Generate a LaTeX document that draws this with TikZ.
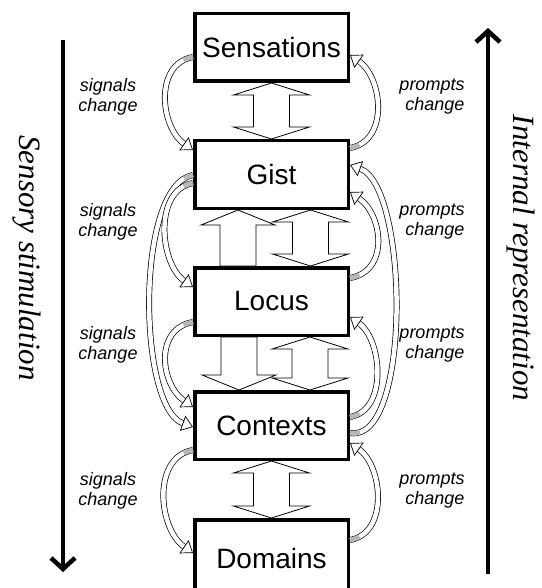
\documentclass[tikz,border=0pt]{standalone}
\usepackage{fontspec}
\setmainfont{Liberation Serif}
\setsansfont{Liberation Sans}
\usetikzlibrary{positioning,calc,arrows.meta}

% block arrows between two boxes: upper anchor, lower anchor, x shift
\newcommand{\bothway}[3]{%
  \draw[blockarrow] let \p1=($#1+(#3,0)$), \p2=($#2+(#3,0)$) in
    (\p1) -- ++(38pt,-12pt) -- ++(-20pt,0pt) -- (\x1+18pt,\y2+12pt) -- ++(20pt,0pt)
    -- (\p2) -- ++(-38pt,12pt) -- ++(20pt,0pt) -- (\x1-18pt,\y1-12pt) -- ++(-20pt,0pt) -- cycle;}
\newcommand{\upway}[3]{%
  \draw[blockarrow] let \p1=($#1+(#3,0)$), \p2=($#2+(#3,0)$) in
    (\p1) -- ++(37pt,-15pt) -- ++(-19pt,0pt) -- (\x1+18pt,\y2) -- (\x1-18pt,\y2)
    -- (\x1-18pt,\y1-15pt) -- ++(-19pt,0pt) -- cycle;}
\newcommand{\downway}[3]{%
  \draw[blockarrow] let \p1=($#1+(#3,0)$), \p2=($#2+(#3,0)$) in
    (\p2) -- ++(37pt,15pt) -- ++(-19pt,0pt) -- (\x1+18pt,\y1) -- (\x1-18pt,\y1)
    -- (\x1-18pt,\y2+15pt) -- ++(-19pt,0pt) -- cycle;}
% curved ribbon arrow with a shaded tail: from, to, curve options
\newcommand{\ribbon}[3]{%
  \draw[curved] #1 to[#3] #2;
  \draw[tailshade] #1 to[#3] #2;}

\begin{document}
\begin{tikzpicture}[x=1pt,y=-1pt,
	box/.style={rectangle,draw=black,fill=white,line width=3.5pt,minimum width=153.5pt,minimum height=67.5pt,font=\sffamily\fontsize{28}{30}\selectfont},
	blockarrow/.style={draw=black,fill=white,line width=0.8pt,line join=miter},
	curved/.style={draw=black,line width=0.7pt,double=white,double distance=4.5pt,-{Triangle[open,length=11pt,width=16pt,line width=0.7pt]}},
	tailshade/.style={draw=black!28,line width=4.5pt,dash pattern=on 10pt off 3000pt},
	note/.style={font=\sffamily\itshape\fontsize{18}{20}\selectfont},
	side/.style={font=\rmfamily\itshape\fontsize{31}{33}\selectfont,rotate=-90},
	bigarrow/.style={line width=4.5pt,-{Straight Barb[length=11pt,width=24pt]}}]
	\useasboundingbox (0,0) rectangle (541,588);
	\clip (0,0) rectangle (541,588);
	% boxes
	\node[box] (sens) at (271.5,47.5) {Sensations};
	\node[box] (gist) [below = 56pt of sens] {Gist};
	\node[box] (locus) [below = 56pt of gist] {Locus};
	\node[box] (ctx) [below = 53pt of locus] {Contexts};
	\node[box,minimum height=76.5pt] (dom) [below = 57pt of ctx] {Domains};
	% block arrows
	\bothway{(sens.south)}{(gist.north)}{0}
	\upway{(gist.south)}{(locus.north)}{-33.5}
	\bothway{(gist.south)}{(locus.north)}{39}
	\downway{(locus.south)}{(ctx.north)}{-32.5}
	\bothway{(locus.south)}{(ctx.north)}{38.5}
	\bothway{(ctx.south)}{(dom.north)}{0}
	% signals change
	\ribbon{([yshift=-9.5pt]sens.west)}{([yshift=24.5pt]gist.west)}{out=190,in=145,looseness=1.1}
	\ribbon{([yshift=-0.5pt]gist.west)}{([yshift=-1.5pt]ctx.west)}{out=190,in=160,looseness=0.6}
	\ribbon{([yshift=-8.5pt]gist.west)}{([yshift=14.5pt]locus.west)}{out=190,in=145,looseness=1.0}
	\ribbon{([yshift=-20.5pt]locus.west)}{([yshift=18.5pt]ctx.west)}{out=190,in=145,looseness=1.2}
	\ribbon{([yshift=-24.5pt]ctx.west)}{([yshift=5pt]dom.west)}{out=190,in=145,looseness=1.05}
	% prompts change
	\ribbon{([yshift=26.5pt]gist.east)}{([yshift=-7.5pt]sens.east)}{out=10,in=-35,looseness=1.1}
	\ribbon{([yshift=-7.5pt]ctx.east)}{([yshift=9.5pt]gist.east)}{out=-10,in=-20,looseness=0.6}
	\ribbon{([yshift=23.5pt]locus.east)}{([yshift=-17.5pt]gist.east)}{out=10,in=-35,looseness=1.2}
	\ribbon{([yshift=8.5pt]ctx.east)}{([yshift=-15.5pt]locus.east)}{out=10,in=-35,looseness=1.0}
	\ribbon{([yshift=18pt]dom.east)}{([yshift=-17.5pt]ctx.east)}{out=10,in=-35,looseness=1.05}
	% labels
	\node[note,align=center] (sig1) at (108,97) {signals\\change};
	\node[note,align=center] (sig2) at (108,222) {signals\\change};
	\node[note,align=center] (sig3) at (108,345) {signals\\change};
	\node[note,align=center] (sig4) at (108,491) {signals\\change};
	\node[note,align=right] (pro1) at (432,97) {prompts\\change};
	\node[note,align=right] (pro2) at (432,222) {prompts\\change};
	\node[note,align=right] (pro3) at (432,345) {prompts\\change};
	\node[note,align=right] (pro4) at (432,491) {prompts\\change};
	% outer arrows
	\coordinate (stop) at (63,40);
	\coordinate (sbot) at (63,572);
	\coordinate (rbot) at (488,574);
	\coordinate (rtop) at (488,28);
	\draw[bigarrow] (stop) -- (sbot);
	\draw[bigarrow] (rbot) -- (rtop);
	\node[side] (sensory) at (27,258) {Sensory stimulation};
	\node[side] (internal) at (521,258) {Internal representation};
\end{tikzpicture}
\end{document}
